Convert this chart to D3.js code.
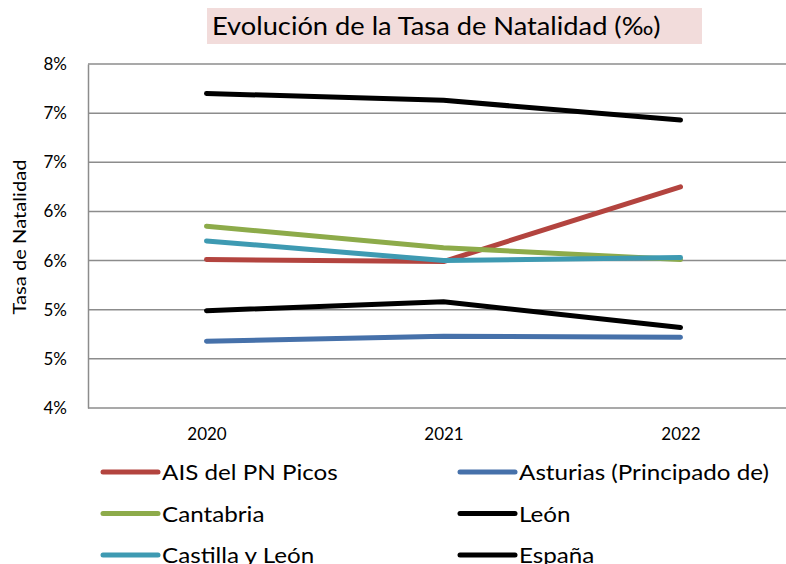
<!DOCTYPE html>
<html>
<head>
<meta charset="utf-8">
<script src="https://cdn.jsdelivr.net/npm/d3@7"></script>
<style>
  body { margin: 0; background: #fff; }
  svg { display: block; font-family: Lato, "Open Sans", sans-serif; }
</style>
</head>
<body>
<div id="chart"></div>
<script>
// Data (tasa de natalidad)
const years = ["2020", "2021", "2022"];
const seriesNames = ["AIS del PN Picos", "Asturias (Principado de)", "Cantabria", "León", "Castilla y León", "España"];
const seriesColors = ["#b3443f", "#4671aa", "#8dab4a", "#000000", "#3e9ab2", "#000000"];
const aisValues = [5.51, 5.49, 6.25];
const asturiasValues = [4.68, 4.73, 4.72];
const cantabriaValues = [5.85, 5.63, 5.51];
const leonValues = [4.99, 5.08, 4.82];
const castillaValues = [5.70, 5.50, 5.53];
const espanaValues = [7.20, 7.13, 6.93];
const yTicks = [4.0, 4.5, 5.0, 5.5, 6.0, 6.5, 7.0, 7.5];
const yTickLabels = ["4%", "5%", "5%", "6%", "6%", "7%", "7%", "8%"];

const allValues = [aisValues, asturiasValues, cantabriaValues, leonValues, castillaValues, espanaValues];
const series = seriesNames.map((name, i) => ({ name, color: seriesColors[i], values: allValues[i] }));

const W = 786, H = 564;
const svg = d3.select("#chart").append("svg").attr("width", W).attr("height", H);

const x = d3.scalePoint().domain(years).range([88, 799]).padding(0.5);
const y = d3.scaleLinear().domain([4.0, 7.5]).range([408, 64]);

// widen text a little, the original font is wider than Lato
function stretch(sel, k) {
  sel.each(function() {
    const w = this.getComputedTextLength();
    d3.select(this).attr("textLength", w * k).attr("lengthAdjust", "spacingAndGlyphs");
  });
}

// Title box
svg.append("rect").attr("x", 207).attr("y", 8).attr("width", 495).attr("height", 36).attr("fill", "#f2dcdb");
svg.append("text").attr("x", 212).attr("y", 35).attr("font-size", 25).attr("fill", "#000")
  .text("Evolución de la Tasa de Natalidad (‰)")
  .call(stretch, 1.09);

// Gridlines
svg.append("g").selectAll("line").data(yTicks).enter().append("line")
  .attr("x1", 88).attr("x2", W).attr("y1", d => y(d)).attr("y2", d => y(d))
  .attr("stroke", "#8c8c8c").attr("stroke-width", 1.5);

// Y axis
const yAxis = svg.append("g").attr("transform", "translate(88,0)")
  .call(d3.axisLeft(y).tickValues(yTicks).tickSize(0).tickPadding(21)
    .tickFormat((d, i) => yTickLabels[i]));
yAxis.select(".domain").attr("stroke", "#8c8c8c").attr("stroke-width", 1.5);
yAxis.selectAll("text").attr("font-size", 17).attr("font-family", "Lato").attr("fill", "#000");

// X axis labels
const xAxis = svg.append("g").attr("transform", "translate(0,408)")
  .call(d3.axisBottom(x).tickSize(0).tickPadding(20));
xAxis.select(".domain").remove();
xAxis.selectAll("text").attr("font-size", 17).attr("font-family", "Lato").attr("fill", "#000");

// Y axis title
svg.append("text").attr("transform", "translate(26,237) rotate(-90)")
  .attr("text-anchor", "middle").attr("font-size", 18).text("Tasa de Natalidad")
  .call(stretch, 1.12);

// Lines
const line = d3.line().x((d, i) => x(years[i])).y(d => y(d));
svg.append("g").selectAll("path").data(series).enter().append("path")
  .attr("d", d => line(d.values))
  .attr("fill", "none").attr("stroke", d => d.color)
  .attr("stroke-width", 5).attr("stroke-linecap", "round").attr("stroke-linejoin", "round");

// Legend
const legend = svg.append("g").selectAll("g").data(series).enter().append("g")
  .attr("transform", (d, i) => `translate(${i % 2 === 0 ? 103 : 460},${472 + Math.floor(i / 2) * 41.5})`);
legend.append("line").attr("x1", 0).attr("x2", 55).attr("y1", 0).attr("y2", 0)
  .attr("stroke", d => d.color).attr("stroke-width", 5).attr("stroke-linecap", "round");
legend.append("text").attr("x", 59).attr("y", 8).attr("font-size", 22).text(d => d.name)
  .call(stretch, 1.1);
</script>
</body>
</html>
